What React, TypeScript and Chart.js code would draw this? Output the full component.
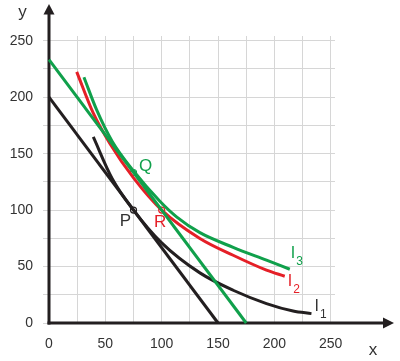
import React, { useEffect, useRef } from "react";
import { Chart, registerables } from "chart.js";

Chart.register(...registerables);

// ---- data ----
const oldBudgetX = [0, 150];
const oldBudgetY = [200, 0];
const newBudgetX = [0, 175];
const newBudgetY = [233.3, 0];

const i1X = [39.3, 56, 75, 100, 133.9, 163.4, 193, 216.6, 232.9];
const i1Y = [164.8, 128, 100, 71, 44.4, 29, 17.2, 10.6, 8.3];
const i2X = [24.6, 39.3, 54, 75, 100, 133.9, 163.4, 193, 209.2];
const i2Y = [222.4, 185.8, 159, 128.5, 100, 74.9, 60, 46.8, 41.4];
const i3X = [31, 42.3, 56, 75, 98.4, 113.2, 133.9, 163.4, 193, 213.7];
const i3Y = [217.7, 188.7, 161, 134.6, 107.8, 94, 80, 67, 55.6, 47.6];

const pointNames = ["P", "Q", "R"];
const pointX = [75, 75, 100];
const pointY = [100, 133.3, 100];

const curveNames = ["I", "I", "I"];
const curveSubs = ["1", "2", "3"];

const tickLabels = [0, 50, 100, 150, 200, 250];
const axisNames = ["x", "y"];

const BLACK = "#231f20";
const RED = "#e51f27";
const GREEN = "#10a04b";
const TEXT = "#333333";
const FONT = "'Liberation Sans', Arial, sans-serif";

const zip = (xs: number[], ys: number[]) => xs.map((x, i) => ({ x, y: ys[i] }));

export default function App() {
  const ref = useRef<HTMLCanvasElement | null>(null);

  useEffect(() => {
    document.body.style.margin = "0";
    const canvas = ref.current!;
    const labelPlugin = {
      id: "decor",
      beforeDatasetsDraw(chart: any) {
        const ctx = chart.ctx;
        const xs = chart.scales.x;
        const ys = chart.scales.y;
        const x0 = xs.getPixelForValue(0);
        const y0 = ys.getPixelForValue(0);
        ctx.save();
        ctx.strokeStyle = BLACK;
        ctx.fillStyle = BLACK;
        ctx.lineWidth = 3;
        // y axis
        ctx.beginPath();
        ctx.moveTo(x0, y0 + 1.5);
        ctx.lineTo(x0, 13);
        ctx.stroke();
        ctx.beginPath();
        ctx.moveTo(x0, 4);
        ctx.lineTo(x0 - 5.5, 14.5);
        ctx.lineTo(x0 + 5.5, 14.5);
        ctx.closePath();
        ctx.fill();
        // x axis
        ctx.beginPath();
        ctx.moveTo(x0 - 1.5, y0);
        ctx.lineTo(384, y0);
        ctx.stroke();
        ctx.beginPath();
        ctx.moveTo(394, y0);
        ctx.lineTo(383, y0 - 5.5);
        ctx.lineTo(383, y0 + 5.5);
        ctx.closePath();
        ctx.fill();
        ctx.restore();
      },
      afterDraw(chart: any) {
        const ctx = chart.ctx;
        const xs = chart.scales.x;
        const ys = chart.scales.y;
        ctx.save();
        ctx.font = `17px ${FONT}`;
        ctx.fillStyle = TEXT;
        ctx.textAlign = "center";
        ctx.textBaseline = "alphabetic";
        ctx.fillText(axisNames[1], 22.5, 17);
        ctx.fillText(axisNames[0], 373, 355);

        // point labels
        const pColors = [TEXT, GREEN, RED];
        const pOff = [
          [-8, 15.5],
          [12, -1.5],
          [-1.5, 17],
        ];
        ctx.font = `17px ${FONT}`;
        pointNames.forEach((n, i) => {
          const px = xs.getPixelForValue(pointX[i]);
          const py = ys.getPixelForValue(pointY[i]);
          ctx.fillStyle = pColors[i];
          ctx.fillText(n, px + pOff[i][0], py + pOff[i][1]);
        });

        // curve labels
        const ends = [
          [i1X, i1Y, TEXT, [3, -3], [8.5, 4]],
          [i2X, i2Y, RED, [3, 10], [8.5, 17]],
          [i3X, i3Y, GREEN, [1, -11], [6.5, -4]],
        ] as any[];
        ctx.textAlign = "left";
        ends.forEach((e, i) => {
          const xsArr = e[0];
          const ysArr = e[1];
          const px = xs.getPixelForValue(xsArr[xsArr.length - 1]);
          const py = ys.getPixelForValue(ysArr[ysArr.length - 1]);
          ctx.fillStyle = e[2];
          ctx.font = `16px ${FONT}`;
          ctx.fillText(curveNames[i], px + e[3][0], py + e[3][1]);
          ctx.font = `12px ${FONT}`;
          ctx.fillText(curveSubs[i], px + e[4][0], py + e[4][1]);
        });
        ctx.restore();
      },
    };

    const lineDs = (data: any[], color: string, curved: boolean) => ({
      type: "line",
      data,
      borderColor: color,
      borderWidth: 3,
      pointRadius: 0,
      fill: false,
      tension: 0,
      cubicInterpolationMode: curved ? "monotone" : "default",
      clip: false,
    });

    const chart = new Chart(canvas, {
      type: "line",
      data: {
        datasets: [
          lineDs(zip(oldBudgetX, oldBudgetY), BLACK, false),
          lineDs(zip(newBudgetX, newBudgetY), GREEN, false),
          lineDs(zip(i1X, i1Y), BLACK, true),
          lineDs(zip(i2X, i2Y), RED, true),
          lineDs(zip(i3X, i3Y), GREEN, true),
          {
            type: "scatter",
            data: zip(pointX, pointY),
            pointRadius: 3,
            pointBackgroundColor: "#ffffff",
            pointBorderColor: [BLACK, GREEN, RED],
            pointBorderWidth: 1.2,
            showLine: false,
            clip: false,
          },
        ] as any,
      },
      options: {
        animation: false,
        responsive: false,
        events: [],
        layout: { padding: { top: 36, right: 65, left: 0, bottom: 0 } },
        plugins: { legend: { display: false }, tooltip: { enabled: false } },
        scales: {
          x: {
            type: "linear",
            min: 0,
            max: 253.8,
            border: { display: false },
            grid: { color: "#d6d6d6", lineWidth: 1, drawTicks: false },
            ticks: {
              stepSize: 25,
              includeBounds: false,
              autoSkip: false,
              maxRotation: 0,
              padding: 13,
              color: TEXT,
              font: { family: FONT, size: 14 },
              callback: (v: any) => (tickLabels.includes(Number(v)) ? String(v) : ""),
            },
            afterFit: (s: any) => {
              s.height = 38;
            },
          },
          y: {
            type: "linear",
            min: 0,
            max: 254.2,
            border: { display: false },
            grid: { color: "#d6d6d6", lineWidth: 1, drawTicks: true, tickLength: 6 },
            ticks: {
              stepSize: 25,
              includeBounds: false,
              autoSkip: false,
              padding: 10,
              color: TEXT,
              font: { family: FONT, size: 14 },
              callback: (v: any) => (tickLabels.includes(Number(v)) ? String(v) : ""),
            },
            afterFit: (s: any) => {
              s.width = 49;
            },
          },
        },
      } as any,
      plugins: [labelPlugin],
    });
    return () => chart.destroy();
  }, []);

  return <canvas ref={ref} width={400} height={361} style={{ display: "block" }} />;
}
